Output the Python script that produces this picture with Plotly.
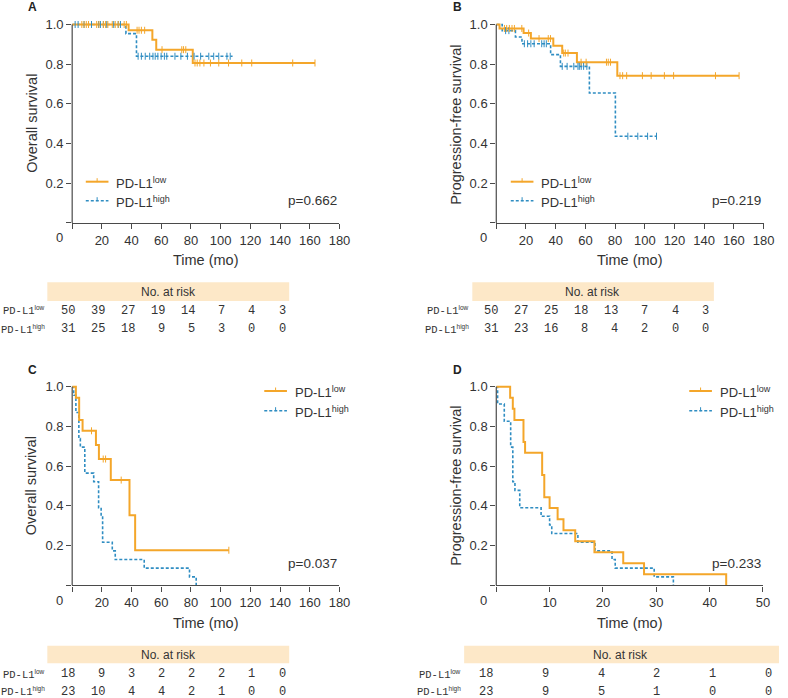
import plotly.graph_objects as go

# ---------------- DATA ----------------
# Panel A: Overall survival (months)
a_low_t = [0, 38, 54, 56.6, 81.2, 163.5]
a_low_s = [1, 0.971, 0.923, 0.873, 0.806, 0.806]
a_low_cens = [6.5, 8, 9.5, 11, 16.5, 18, 21, 22.5, 24, 27, 29, 31, 35, 36.5, 43.7, 45, 46.6, 48.8,
              60.5, 73.8, 75, 76.5, 82.7, 84.2, 86, 88.7, 93.1, 98.7, 105.3, 114.2, 120.9, 148.5, 163.5]
a_high_t = [0, 36.2, 43.3, 108]
a_high_s = [1, 0.954, 0.84, 0.84]
a_high_cens = [2, 4, 8, 13, 17.8, 19, 21, 23.3, 28, 31, 32.5, 44.4, 46.6, 49.2, 52.2, 54.4, 55.9, 57.7,
               59.9, 62.1, 63.7, 69.2, 73.2, 77.6, 82.1, 86.5, 92, 95.3, 98.7, 104.2, 106.4]

# Panel B: Progression-free survival
b_low_t = [0, 2.2, 18.4, 23.3, 38.4, 44.4, 54.3, 81.5, 163.5]
b_low_s = [1, 0.98, 0.957, 0.929, 0.893, 0.856, 0.81, 0.742, 0.742]
b_low_cens = [5.5, 7, 8.8, 10.6, 12.2, 17.2, 21.8, 28.8, 35, 36.5, 45.4, 46.5, 48.3, 57.1, 60.5, 74.2,
              75.4, 76.9, 83.3, 85.1, 87.8, 98.4, 104.3, 113.2, 119.4, 147.6, 163.5]
b_high_t = [0, 4, 12.9, 17.3, 36.6, 43.2, 62.7, 80.2, 107.9]
b_high_s = [1, 0.969, 0.937, 0.903, 0.848, 0.789, 0.655, 0.437, 0.437]
b_high_cens = [6.3, 8.5, 18.9, 21.1, 23.3, 25.5, 30.6, 32.2, 33.7, 44.4, 47.7, 52.2, 55, 55.9, 57.2,
               58.8, 61, 88.6, 95.3, 101.9, 107.9]

# Panel C: Overall survival
c_low_t = [0, 2.5, 4.7, 7, 16, 18, 26, 38.6, 42.4, 105.5]
c_low_s = [1, 0.944, 0.833, 0.778, 0.707, 0.636, 0.530, 0.353, 0.177, 0.177]
c_low_cens = [13, 20.9, 22.5, 33, 105.5]
c_high_t = [0, 1, 2.5, 4.5, 5.5, 8.5, 14.5, 17.8, 19.5, 20.5, 27, 29, 48.5, 79, 83.5]
c_high_s = [1, 0.957, 0.870, 0.739, 0.696, 0.565, 0.522, 0.391, 0.348, 0.217, 0.174, 0.130, 0.087, 0.043, 0]
c_high_cens = []

# Panel D: Progression-free survival
d_low_t = [0, 2.6, 3.1, 3.4, 5.1, 5.4, 8.6, 9.0, 10.0, 11.5, 12.6, 14.8, 18.4, 23.8, 27.7, 43.1]
d_low_s = [1, 0.944, 0.889, 0.833, 0.722, 0.667, 0.556, 0.444, 0.389, 0.333, 0.278, 0.222, 0.167, 0.111, 0.056, 0]
d_low_cens = []
d_high_t = [0, 0.25, 1.5, 2.7, 3.1, 3.5, 4.4, 8.4, 10.0, 10.4, 15.3, 18.5, 21.7, 22.3, 29.6, 33.2]
d_high_s = [1, 0.913, 0.826, 0.696, 0.522, 0.478, 0.391, 0.348, 0.304, 0.261, 0.217, 0.174, 0.130, 0.087, 0.043, 0]
d_high_cens = []

# Risk tables
a_risk_low = [50, 39, 27, 19, 14, 7, 4, 3]
a_risk_high = [31, 25, 18, 9, 5, 3, 0, 0]
b_risk_low = [50, 27, 25, 18, 13, 7, 4, 3]
b_risk_high = [31, 23, 16, 8, 4, 2, 0, 0]
c_risk_low = [18, 9, 3, 2, 2, 2, 1, 0]
c_risk_high = [23, 10, 4, 4, 2, 1, 0, 0]
d_risk_low = [18, 9, 4, 2, 1, 0]
d_risk_high = [23, 9, 5, 1, 0, 0]

p_values = ["p=0.662", "p=0.219", "p=0.037", "p=0.233"]
panel_letters = ["A", "B", "C", "D"]
y_titles = ["Overall survival", "Progression-free survival", "Overall survival", "Progression-free survival"]
x_title = "Time (mo)"
group_names = ["PD-L1", "PD-L1"]
group_sups = ["low", "high"]
x_ticks_long = [0, 20, 40, 60, 80, 100, 120, 140, 160, 180]
x_ticks_short = [0, 10, 20, 30, 40, 50]
y_ticks = [0, 0.2, 0.4, 0.6, 0.8, 1.0]

# ---------------- STYLE / LAYOUT ----------------
W, H = 788, 698
ORANGE = "#F4A62A"
BLUE = "#2F8DC2"
AXC = "#4a4a4a"
TXT = "#333333"
BAND = "#FDE8C8"
SANS = "Liberation Sans, Arial, sans-serif"
MONO = "Liberation Mono, monospace"


def fx(p):
    return p / W


def fy(p):
    return 1 - p / H


def surv_at(ts, ss, t):
    v = ss[0]
    for ti, si in zip(ts, ss):
        if ti <= t:
            v = si
    return v


def label(name, sup, sup_size, fam=None):
    style = "font-size:%spx" % sup_size
    if fam:
        style += ";font-family:%s" % fam
    return '%s<sup><span style="%s">%s</span></sup>' % (name, style, sup)


panels = [
    dict(lt=a_low_t, ls=a_low_s, lc=a_low_cens, ht=a_high_t, hs=a_high_s, hc=a_high_cens,
         xr=180, xt=x_ticks_long, x0=73.2, x1=344.3, y0=222.9, y1=24.5),
    dict(lt=b_low_t, ls=b_low_s, lc=b_low_cens, ht=b_high_t, hs=b_high_s, hc=b_high_cens,
         xr=180, xt=x_ticks_long, x0=503.3, x1=774.4, y0=222.9, y1=24.5),
    dict(lt=c_low_t, ls=c_low_s, lc=c_low_cens, ht=c_high_t, hs=c_high_s, hc=c_high_cens,
         xr=180, xt=x_ticks_long, x0=73.2, x1=344.3, y0=585.4, y1=386.7),
    dict(lt=d_low_t, ls=d_low_s, lc=d_low_cens, ht=d_high_t, hs=d_high_s, hc=d_high_cens,
         xr=50, xt=x_ticks_short, x0=503.3, x1=773.8, y0=585.4, y1=386.7),
]

fig = go.Figure()
shapes = []
annotations = []
layout = {}
YMAX = 1.06

for i, p in enumerate(panels):
    k = "" if i == 0 else str(i + 1)
    xa, ya = "x" + k, "y" + k
    unit = p["y0"] - p["y1"]
    top_px = p["y0"] - YMAX * unit
    layout["xaxis" + k] = dict(
        domain=[fx(p["x0"]), fx(p["x1"])], range=[0, p["xr"]], anchor=ya,
        showline=True, linecolor=AXC, linewidth=1.2, ticks="outside", ticklen=5,
        tickwidth=1.2, tickcolor=AXC, tickvals=p["xt"],
        ticktext=[""] + [str(v) for v in p["xt"][1:]],
        tickfont=dict(family=SANS, size=13, color=TXT), showgrid=False, zeroline=False,
    )
    layout["yaxis" + k] = dict(
        domain=[fy(p["y0"]), fy(top_px)], range=[0, YMAX], anchor=xa,
        showline=False, ticks="outside", ticklen=5, tickwidth=1.2, tickcolor=AXC,
        tickvals=y_ticks, ticktext=[""] + ["%.1f" % v for v in y_ticks[1:]],
        tickfont=dict(family=SANS, size=13, color=TXT), showgrid=False, zeroline=False,
    )
    shapes.append(dict(type="line", xref=xa + " domain", yref=ya, x0=0, x1=0, y0=0, y1=1,
                       line=dict(color=AXC, width=1.2)))
    fig.add_trace(go.Scatter(x=p["ht"], y=p["hs"], mode="lines", line_shape="hv",
                             line=dict(color=BLUE, width=1.6, dash="3px,2px"),
                             xaxis=xa, yaxis=ya, showlegend=False, hoverinfo="skip"))
    fig.add_trace(go.Scatter(x=p["lt"], y=p["ls"], mode="lines", line_shape="hv",
                             line=dict(color=ORANGE, width=2),
                             xaxis=xa, yaxis=ya, showlegend=False, hoverinfo="skip"))
    if p["hc"]:
        fig.add_trace(go.Scatter(x=p["hc"], y=[surv_at(p["ht"], p["hs"], t) for t in p["hc"]],
                                 mode="markers",
                                 marker=dict(symbol="line-ns", size=5, line=dict(color=BLUE, width=1)),
                                 xaxis=xa, yaxis=ya, showlegend=False, hoverinfo="skip", cliponaxis=False))
    if p["lc"]:
        fig.add_trace(go.Scatter(x=p["lc"], y=[surv_at(p["lt"], p["ls"], t) for t in p["lc"]],
                                 mode="markers",
                                 marker=dict(symbol="line-ns", size=5, line=dict(color=ORANGE, width=1)),
                                 xaxis=xa, yaxis=ya, showlegend=False, hoverinfo="skip", cliponaxis=False))
    annotations.append(dict(xref="paper", yref="paper", x=fx(p["x0"] - 13), y=fy(p["y0"] + 15),
                            text="0", showarrow=False, xanchor="center", yanchor="middle",
                            font=dict(family=SANS, size=13, color=TXT)))
    annotations.append(dict(xref="paper", yref="paper", x=fx((p["x0"] + p["x1"]) / 2), y=fy(p["y0"] + 37.5),
                            text=x_title, showarrow=False, xanchor="center", yanchor="middle",
                            font=dict(family=SANS, size=14.5, color=TXT)))

ytitle_pos = [(31.7, 123.5), (462.3, 125), (31.7, 486), (462.3, 486)]
for (xp, yp), t in zip(ytitle_pos, y_titles):
    annotations.append(dict(xref="paper", yref="paper", x=fx(xp), y=fy(yp), text=t, textangle=-90,
                            showarrow=False, xanchor="center", yanchor="middle",
                            font=dict(family=SANS, size=14.5, color=TXT)))

letter_pos = [(26.5, 7), (457.5, 7), (26.5, 369.5), (457.5, 369.5)]
for (xp, yp), t in zip(letter_pos, panel_letters):
    annotations.append(dict(xref="paper", yref="paper", x=fx(xp), y=fy(yp), text="<b>%s</b>" % t,
                            showarrow=False, xanchor="left", yanchor="middle",
                            font=dict(family=SANS, size=12, color="#222")))

pv_pos = [(343.5, 200.7), (774, 200.7), (343.5, 563.5), (774, 563.5)]
for (xp, yp), t in zip(pv_pos, p_values):
    annotations.append(dict(xref="paper", yref="paper", x=fx(xp), y=fy(yp), text=t,
                            showarrow=False, xanchor="right", yanchor="middle",
                            font=dict(family=SANS, size=13.5, color=TXT)))

leg_pos = [(87, 181.7, 200.7), (518, 181.7, 200.7), (268, 391, 410.7), (699, 391, 410.7)]
for (lx, ly1, ly2) in leg_pos:
    for yy, col, dash, w in [(ly1, ORANGE, "solid", 2), (ly2, BLUE, "3px,2px", 1.6)]:
        shapes.append(dict(type="line", xref="paper", yref="paper", x0=fx(lx), x1=fx(lx + 23),
                           y0=fy(yy), y1=fy(yy), line=dict(color=col, width=w, dash=dash)))
        shapes.append(dict(type="line", xref="paper", yref="paper", x0=fx(lx + 11.5), x1=fx(lx + 11.5),
                           y0=fy(yy - 3.5), y1=fy(yy + 0.5), line=dict(color=col, width=1)))
    for yy, nm, sp in [(ly1, group_names[0], group_sups[0]), (ly2, group_names[1], group_sups[1])]:
        annotations.append(dict(xref="paper", yref="paper", x=fx(lx + 29), y=fy(yy + 1), text=label(nm, sp, 9),
                                showarrow=False, xanchor="left", yanchor="middle",
                                font=dict(family=SANS, size=13, color=TXT)))

tables = [
    dict(low=a_risk_low, high=a_risk_high, band=(48, 293.3, 282.3, 301), rows=(310.7, 329.3),
         lab_r=46.5, num_r0=76.7, step=30.57, head_x=171.3),
    dict(low=b_risk_low, high=b_risk_high, band=(479, 724, 282.3, 301), rows=(310.7, 329.3),
         lab_r=476.5, num_r0=505.7, step=30.57, head_x=600.7),
    dict(low=c_risk_low, high=c_risk_high, band=(48, 293.3, 645.7, 663.3), rows=(674.3, 691.8),
         lab_r=46.5, num_r0=76.7, step=30.57, head_x=171.3),
    dict(low=d_risk_low, high=d_risk_high, band=(470.7, 790, 645.7, 663.3), rows=(674.3, 691.8),
         lab_r=469, num_r0=501.3, step=56.5, head_x=629),
]
for tb in tables:
    bx0, bx1, by0, by1 = tb["band"]
    shapes.append(dict(type="rect", xref="paper", yref="paper", x0=fx(bx0), x1=fx(bx1),
                       y0=fy(by1), y1=fy(by0), fillcolor=BAND, line=dict(width=0), layer="below"))
    annotations.append(dict(xref="paper", yref="paper", x=fx(tb["head_x"]),
                            y=fy((by0 + by1) / 2), text="No. at risk", showarrow=False,
                            xanchor="center", yanchor="middle", font=dict(family=SANS, size=12, color=TXT)))
    for vals, ry, nm, sp in [(tb["low"], tb["rows"][0], group_names[0], group_sups[0]),
                             (tb["high"], tb["rows"][1], group_names[1], group_sups[1])]:
        annotations.append(dict(xref="paper", yref="paper", x=fx(tb["lab_r"]), y=fy(ry),
                                text=label(nm, sp, 6.5, "Liberation Sans"), showarrow=False,
                                xanchor="right", yanchor="middle", borderpad=0,
                                font=dict(family=MONO, size=10.5, color=TXT)))
        for j, v in enumerate(vals):
            annotations.append(dict(xref="paper", yref="paper", x=fx(tb["num_r0"] + j * tb["step"]), y=fy(ry),
                                    text=str(v), showarrow=False, xanchor="right", yanchor="middle",
                                    borderpad=0, font=dict(family=MONO, size=12, color=TXT)))

fig.update_layout(
    width=W, height=H, margin=dict(l=0, r=0, t=0, b=0),
    paper_bgcolor="white", plot_bgcolor="white",
    shapes=shapes, annotations=annotations, showlegend=False, **layout,
)

fig.write_html("out.html", config={"displayModeBar": False},
               post_script="document.body.style.margin='0';document.body.style.overflow='hidden';")
